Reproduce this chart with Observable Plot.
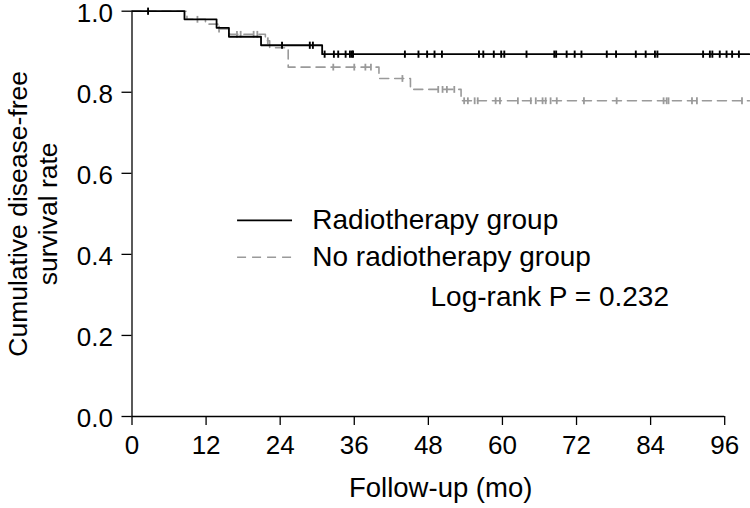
<!DOCTYPE html>
<html>
<head>
<meta charset="utf-8">
<script src="https://cdn.jsdelivr.net/npm/d3@7"></script>
<script src="https://cdn.jsdelivr.net/npm/@observablehq/plot@0.6"></script>
<style>
  html, body { margin: 0; padding: 0; background: #fff; }
  #chart { width: 750px; height: 508px; }
</style>
</head>
<body>
<div id="chart"></div>
<script>
// ---- Data ----
const xTicks = [0, 12, 24, 36, 48, 60, 72, 84, 96];
const yTicks = [0, 0.2, 0.4, 0.6, 0.8, 1.0];
const endTime = 100;

// Radiotherapy group (solid black)
const rtTimes    = [0, 8.5, 13.7, 15.7, 20.9, 30.8];
const rtSurvival = [1.0, 0.980, 0.959, 0.937, 0.916, 0.894];
const rtCensor   = [2.6, 24.3, 28.8, 29.3, 31.2, 32.7, 33.4, 34.6, 35.3, 35.6, 35.8,
                    44.2, 46.4, 47.8, 49.0, 50.2, 56.2, 56.9, 58.6, 59.8, 60.3, 63.9,
                    68.4, 68.7, 70.4, 71.7, 72.8, 76.9, 78.4, 81.6, 83.2, 84.7, 85.1,
                    92.5, 93.6, 94.0, 95.2, 96.3, 97.2, 98.3];

// No radiotherapy group (dashed grey)
const nrtTimes    = [0, 8.9, 11.9, 13.9, 15.8, 21.6, 22.3, 25.3, 40.0, 45.1, 53.3];
const nrtSurvival = [1.0, 0.980, 0.968, 0.956, 0.943, 0.927, 0.910, 0.862, 0.834, 0.807, 0.779];
const nrtCensor   = [10.6, 14.1, 17.0, 17.6, 19.7, 20.3, 22.0, 32.6, 36.0, 37.8, 38.7, 43.8,
                     49.6, 50.3, 51.0, 52.2, 53.8, 54.4, 55.5, 56.0, 58.9, 59.6, 62.5,
                     64.6, 65.4, 66.5, 67.0, 67.8, 68.8, 73.2, 78.5, 86.1, 86.6, 86.9,
                     90.7, 91.5, 98.8];

const groupLabels = ["Radiotherapy group", "No radiotherapy group"];
const pText = "Log-rank P = 0.232";
const xLabel = "Follow-up (mo)";
const yLabel = "Cumulative disease-free\nsurvival rate";

// ---- Build tables ----
function curve(times, surv) {
  const pts = times.map((t, i) => ({t, s: surv[i]}));
  pts.push({t: endTime, s: surv[surv.length - 1]});
  return pts;
}
function survAt(times, surv, t) {
  let s = surv[0];
  for (let i = 0; i < times.length; i++) if (times[i] <= t) s = surv[i];
  return s;
}
const rtCurve = curve(rtTimes, rtSurvival);
const nrtCurve = curve(nrtTimes, nrtSurvival);
const rtMarks = rtCensor.map(t => ({t, s: survAt(rtTimes, rtSurvival, t)}));
const nrtMarks = nrtCensor.map(t => ({t, s: survAt(nrtTimes, nrtSurvival, t)}));

const vbar = {
  draw(ctx, size) {
    const h = Math.sqrt(size / Math.PI);
    ctx.moveTo(0, -h);
    ctx.lineTo(0, h);
  }
};

const FONT = "'Liberation Sans', Arial, Helvetica, sans-serif";
const GREY = "#9a9a9a";
const DASH = "9,6";

const chart = Plot.plot({
  width: 750,
  height: 508,
  marginLeft: 131.5,
  marginRight: 1.1,
  marginTop: 10.7,
  marginBottom: 92,
  style: {fontFamily: FONT, fontSize: "26px", color: "#000", background: "#fff"},
  x: {domain: [0, 100]},
  y: {domain: [0, 1]},
  marks: [
    // axes
    Plot.axisX(xTicks, {tickSize: 9, tickPadding: 10, fontSize: 26, strokeWidth: 1.3, label: null}),
    Plot.axisY(yTicks, {tickSize: 10, strokeWidth: 1.3, tickFormat: () => "", label: null}),
    Plot.text(yTicks, {x: 0, y: d => d, text: d => d.toFixed(1), textAnchor: "end",
                       dx: -19, dy: 2, fontSize: 26, fill: "#000"}),
    Plot.ruleY([0], {x1: 0, x2: 96, stroke: "#000", strokeWidth: 1.3}),
    Plot.ruleX([0], {y1: 0, y2: 1, stroke: "#000", strokeWidth: 1.3}),

    // curves
    Plot.line(nrtCurve, {x: "t", y: "s", curve: "step-after", stroke: GREY, strokeWidth: 1.6, strokeDasharray: DASH}),
    Plot.dot(nrtMarks, {x: "t", y: "s", symbol: vbar, r: 3.4, fill: "none", stroke: GREY, strokeWidth: 1.8}),
    Plot.line(rtCurve, {x: "t", y: "s", curve: "step-after", stroke: "#000", strokeWidth: 1.8}),
    Plot.dot(rtMarks, {x: "t", y: "s", symbol: vbar, r: 3.6, fill: "none", stroke: "#000", strokeWidth: 1.9}),

    // legend
    Plot.ruleY([0.484], {x1: 17.1, x2: 26.0, stroke: "#000", strokeWidth: 1.8}),
    Plot.ruleY([0.393], {x1: 17.1, x2: 26.0, stroke: GREY, strokeWidth: 1.6, strokeDasharray: DASH}),
    Plot.text([groupLabels[0]], {x: 29.2, y: 0.484, text: d => d, textAnchor: "start", fontSize: 28, fill: "#000"}),
    Plot.text([groupLabels[1]], {x: 29.2, y: 0.393, text: d => d, textAnchor: "start", fontSize: 28, fill: "#000"}),

    // log-rank annotation
    Plot.text([pText], {x: 48.35, y: 0.294, text: d => d, textAnchor: "start", fontSize: 28, fill: "#000"}),

    // axis titles
    Plot.text([xLabel], {frameAnchor: "bottom", dy: 80, text: d => d, fontSize: 27.5, fill: "#000"}),
    Plot.text([yLabel], {frameAnchor: "left", rotate: -90, dx: -100, text: d => d, textAnchor: "middle",
                         lineHeight: 1.15, fontSize: 26.5, fill: "#000"})
  ]
});
document.getElementById("chart").appendChild(chart);
</script>
</body>
</html>
